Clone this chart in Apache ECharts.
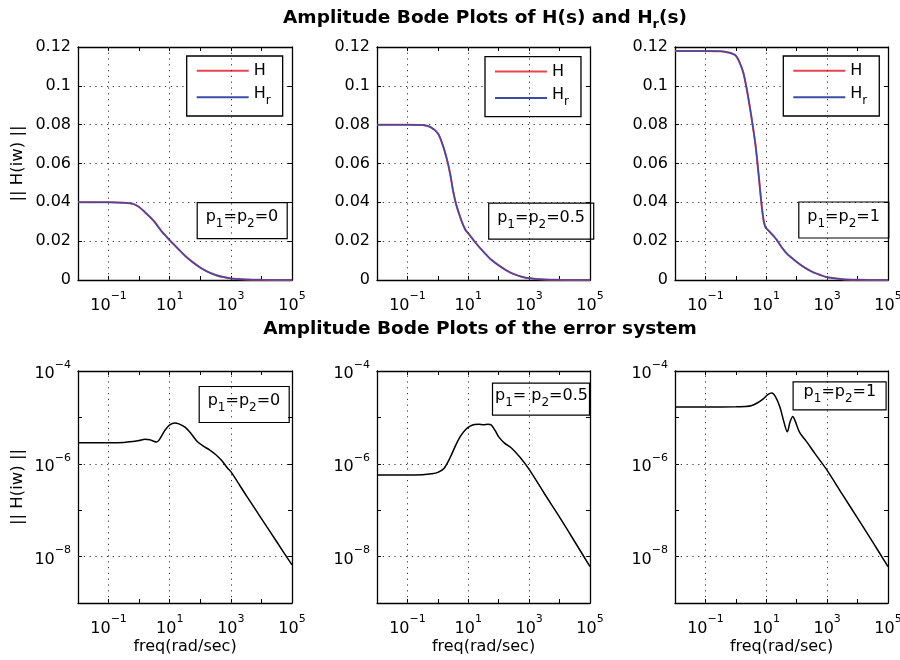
<!DOCTYPE html>
<html><head><meta charset="utf-8">
<script src="https://cdn.jsdelivr.net/npm/echarts@6/dist/echarts.min.js"></script>
<style>html,body{margin:0;padding:0;background:#fff}#c{width:900px;height:660px}</style>
</head><body><div id="c"></div>
<script>
// ---------- data (x = log10 of frequency in rad/sec) ----------
// top row: ||H(iw)|| (linear) ; H and Hr coincide at this resolution
const top0_logw = [-2, -1, -0.5, -0.2, 0, 0.25, 0.5, 0.75, 1.0, 1.25, 1.5, 1.75, 2.0, 2.25, 2.5, 2.75, 3.0, 3.5, 4, 5];
const top0_H    = [0.0400, 0.0400, 0.0398, 0.0392, 0.0376, 0.0340, 0.0300, 0.0248, 0.0205, 0.0165, 0.0125, 0.0092, 0.0064, 0.0042, 0.0026, 0.0015, 0.0008, 0.0003, 0.0001, 0.0];
const top0_Hr   = [0.0400, 0.0400, 0.0398, 0.0392, 0.0376, 0.0340, 0.0300, 0.0248, 0.0205, 0.0165, 0.0125, 0.0092, 0.0064, 0.0042, 0.0026, 0.0015, 0.0008, 0.0003, 0.0001, 0.0];

const top1_logw = [-2, -1, -0.5, -0.25, 0, 0.15, 0.3, 0.4, 0.5, 0.6, 0.7, 0.8, 0.9, 1.0, 1.25, 1.5, 1.75, 2.0, 2.25, 2.5, 2.75, 3.0, 3.5, 4, 5];
const top1_H    = [0.080, 0.080, 0.0798, 0.0788, 0.0755, 0.070, 0.062, 0.055, 0.046, 0.039, 0.034, 0.0295, 0.026, 0.024, 0.019, 0.0145, 0.0105, 0.0075, 0.005, 0.003, 0.0017, 0.0009, 0.0003, 0.0001, 0];
const top1_Hr   = [0.080, 0.080, 0.0798, 0.0788, 0.0755, 0.070, 0.062, 0.055, 0.046, 0.039, 0.034, 0.0295, 0.026, 0.024, 0.019, 0.0145, 0.0105, 0.0075, 0.005, 0.003, 0.0017, 0.0009, 0.0003, 0.0001, 0];

const top2_logw = [-2, -1, -0.5, -0.25, 0, 0.15, 0.25, 0.35, 0.45, 0.55, 0.65, 0.75, 0.85, 0.92, 0.98, 1.05, 1.13, 1.25, 1.35, 1.5, 1.67, 2.0, 2.25, 2.5, 2.77, 3.0, 3.5, 4, 5];
const top2_H    = [0.118, 0.118, 0.1178, 0.1172, 0.1155, 0.111, 0.1065, 0.099, 0.090, 0.080, 0.069, 0.054, 0.038, 0.030, 0.027, 0.0258, 0.0245, 0.0225, 0.0205, 0.017, 0.0137, 0.0093, 0.0065, 0.0043, 0.0026, 0.0014, 0.0004, 0.0001, 0];
const top2_Hr   = [0.118, 0.118, 0.1178, 0.1172, 0.1155, 0.111, 0.1065, 0.099, 0.090, 0.080, 0.069, 0.054, 0.038, 0.030, 0.027, 0.0258, 0.0245, 0.0225, 0.0205, 0.017, 0.0137, 0.0093, 0.0065, 0.0043, 0.0026, 0.0014, 0.0004, 0.0001, 0];

// bottom row: log10 of ||error(iw)||
const err0_logw = [-2, -1, -0.5, -0.2, 0.0, 0.19, 0.35, 0.5, 0.57, 0.65, 0.75, 0.85, 1.0, 1.17, 1.3, 1.5, 1.7, 1.9, 2.1, 2.3, 2.5, 2.7, 2.9, 3.0, 3.5, 4.0, 4.5, 5.0];
const err0_log  = [-5.548, -5.547, -5.54, -5.52, -5.50, -5.47, -5.48, -5.52, -5.53, -5.49, -5.38, -5.27, -5.16, -5.12, -5.14, -5.21, -5.35, -5.52, -5.62, -5.70, -5.80, -5.93, -6.10, -6.17, -6.68, -7.18, -7.68, -8.18];

const err1_logw = [-2, -1, -0.5, -0.2, 0.0, 0.2, 0.4, 0.6, 0.75, 0.9, 1.06, 1.2, 1.35, 1.5, 1.65, 1.75, 1.88, 2.0, 2.2, 2.4, 2.7, 3.0, 3.5, 4.0, 4.5, 5.0];
const err1_log  = [-6.243, -6.243, -6.235, -6.215, -6.185, -6.10, -5.87, -5.58, -5.40, -5.27, -5.19, -5.155, -5.145, -5.16, -5.148, -5.16, -5.28, -5.42, -5.56, -5.65, -5.86, -6.12, -6.64, -7.15, -7.68, -8.215];

const err2_logw = [-2, -1, 0, 0.3, 0.5, 0.7, 0.9, 1.05, 1.18, 1.3, 1.45, 1.58, 1.69, 1.78, 1.87, 1.95, 2.1, 2.3, 2.6, 3.0, 3.5, 4.0, 4.5, 5.0];
const err2_log  = [-4.774, -4.774, -4.772, -4.765, -4.75, -4.69, -4.60, -4.51, -4.475, -4.55, -4.78, -5.10, -5.31, -5.10, -4.98, -5.08, -5.33, -5.50, -5.78, -6.14, -6.66, -7.17, -7.69, -8.215];

// tick labels and annotations
const xLabelExps = [-1, 1, 3, 5];
const errYLabelExps = [-8, -6, -4];
const annotTop = ['p1=p2=0', 'p1=p2=0.5', 'p1=p2=1'];
const annotBottom = ['p1=p2=0', 'p1= p2=0.5', 'p1=p2=1'];

// ---------- chart ----------
const F = 'DejaVu Sans';
const RED = '#e8434f', BLUE = '#3a4ca8';
const chart = echarts.init(document.getElementById('c'), null, {renderer: 'canvas'});

const grids = [
  {left: 78, top: 47, width: 214, height: 233},
  {left: 377, top: 47, width: 213, height: 233},
  {left: 675, top: 47, width: 213, height: 233},
  {left: 78, top: 371, width: 214, height: 232},
  {left: 377, top: 371, width: 213, height: 232},
  {left: 675, top: 371, width: 213, height: 232}
].map(g => Object.assign({outerBoundsMode: 'none', containLabel: false}, g));

const powRich = {
  b: {fontFamily: F, fontSize: 16, lineHeight: 29, color: '#000'},
  s: {fontFamily: F, fontSize: 11, lineHeight: 11, verticalAlign: 'top', color: '#000'}
};
function pow10(e) { return '{b|10}{s|' + (e < 0 ? '\u2212' : '') + Math.abs(e) + '}'; }
function xFmt(v) {
  const e = Math.round(v);
  if (Math.abs(v - e) > 1e-6 || xLabelExps.indexOf(e) < 0) return '';
  return pow10(e);
}
function yErrFmt(v) {
  const e = Math.round(v);
  if (Math.abs(v - e) > 1e-6 || errYLabelExps.indexOf(e) < 0) return '';
  return pow10(e);
}
const dotted = {color: '#333', type: [1.2, 4.6], width: 1};
const axLine = {show: true, onZero: false, lineStyle: {color: '#000', width: 1.3}};
const axTick = {show: true, inside: true, length: 4, lineStyle: {color: '#000', width: 1}};

const xAxis = [], yAxis = [];
for (let i = 0; i < 6; i++) {
  const bottomRow = i >= 3;
  xAxis.push({
    type: 'value', gridIndex: i, position: 'bottom', min: -2, max: 5, interval: 1,
    axisLine: axLine, axisTick: axTick, splitLine: {show: false},
    axisLabel: {formatter: xFmt, rich: powRich, margin: 11, showMinLabel: true, showMaxLabel: true},
    name: bottomRow ? 'freq(rad/sec)' : '', nameLocation: 'middle', nameGap: 36,
    nameTextStyle: {fontFamily: F, fontSize: 16, color: '#000'}
  });
  xAxis.push({
    type: 'value', gridIndex: i, position: 'top', min: -2, max: 5, interval: 1,
    axisLine: axLine, axisTick: axTick, splitLine: {show: false}, axisLabel: {show: false}
  });
  const yCommon = bottomRow
    ? {min: -9, max: -4, interval: 1}
    : {min: 0, max: 0.12, interval: 0.02};
  yAxis.push(Object.assign({
    type: 'value', gridIndex: i, position: 'left',
    axisLine: axLine, axisTick: axTick,
    splitLine: bottomRow ? {show: false} : {show: true, lineStyle: dotted},
    axisLabel: bottomRow
      ? {formatter: yErrFmt, rich: powRich, margin: 7, padding: [6, 0, 0, 0], showMinLabel: true, showMaxLabel: true}
      : {formatter: v => String(+v.toFixed(2)), fontFamily: F, fontSize: 16, color: '#000', margin: 7, showMinLabel: true, showMaxLabel: true},
    name: (i % 3 === 0) ? '|| H(iw) ||' : '', nameLocation: 'middle', nameGap: 52,
    nameTextStyle: {fontFamily: F, fontSize: 16.5, color: '#000'}
  }, yCommon));
  yAxis.push(Object.assign({
    type: 'value', gridIndex: i, position: 'right',
    axisLine: axLine, axisTick: axTick, splitLine: {show: false}, axisLabel: {show: false}
  }, yCommon));
}

// dotted grid at the labelled decades (drawn through the axes' scales)
function gridMarks(bottomRow) {
  return {
    silent: true, symbol: ['none', 'none'], label: {show: false}, lineStyle: dotted, animation: false,
    emphasis: {disabled: true},
    data: xLabelExps.filter(e => e > -2 && e < 5).map(e => ({xAxis: e}))
      .concat(bottomRow ? errYLabelExps.filter(e => e > -9 && e < -4).map(e => ({yAxis: e})) : [])
  };
}

const topSets = [[top0_logw, top0_H, top0_Hr], [top1_logw, top1_H, top1_Hr], [top2_logw, top2_H, top2_Hr]];
const errSets = [[err0_logw, err0_log], [err1_logw, err1_log], [err2_logw, err2_log]];
const zip = (a, b) => a.map((v, k) => [v, b[k]]);
const series = [];
topSets.forEach((s, i) => {
  series.push({type: 'line', name: 'H', xAxisIndex: 2 * i, yAxisIndex: 2 * i, data: zip(s[0], s[1]),
    showSymbol: false, smooth: 0.3, lineStyle: {color: RED, width: 2}, itemStyle: {color: RED}, z: 2, silent: true,
    markLine: gridMarks(false)});
  series.push({type: 'line', name: 'Hr', xAxisIndex: 2 * i, yAxisIndex: 2 * i, data: zip(s[0], s[2]),
    showSymbol: false, smooth: 0.3, lineStyle: {color: BLUE, width: 1.5}, itemStyle: {color: BLUE}, z: 3, silent: true});
});
errSets.forEach((s, i) => {
  series.push({type: 'line', name: 'err' + i, xAxisIndex: 2 * (i + 3), yAxisIndex: 2 * (i + 3), data: zip(s[0], s[1]),
    showSymbol: false, smooth: 0.3, lineStyle: {color: '#000', width: 1.5}, itemStyle: {color: '#000'}, z: 3, silent: true,
    markLine: gridMarks(true)});
});

const legRich = {
  m: {fontFamily: F, fontSize: 16, fontWeight: 'normal', lineHeight: 26, color: '#000'},
  m2: {fontFamily: F, fontSize: 16, fontWeight: 'normal', lineHeight: 22, color: '#000'},
  s: {fontFamily: F, fontSize: 12, fontWeight: 'normal', lineHeight: 12, verticalAlign: 'bottom', color: '#000'}
};
const legendPos = [{left: 186.7, top: 56}, {left: 485, top: 56.7}, {left: 783.3, top: 56}];
const legend = legendPos.map(p => ({
  left: p.left, top: p.top, orient: 'vertical', selectedMode: false,
  backgroundColor: '#fff', borderColor: '#000', borderWidth: 1.3, padding: [6.7, 12, 8.7, 10],
  itemWidth: 52, itemHeight: 2, itemGap: 7.6, icon: 'rect',
  formatter: n => n === 'H' ? '{m2|H}' : '{m|H}{s|r}',
  textStyle: {rich: legRich},
  data: [{name: 'H'}, {name: 'Hr', textStyle: {padding: [0, 0, 6, 0]}}]
}));

const annRich = {
  m: {fontFamily: F, fontSize: 16, fontWeight: 'normal', lineHeight: 26, color: '#000'},
  s: {fontFamily: F, fontSize: 12, fontWeight: 'normal', lineHeight: 12, verticalAlign: 'bottom', color: '#000'}
};
function annText(t) {
  // "p1=p2=0" -> p with subscript digits
  const parts = [];
  let k = 0;
  while (k < t.length) {
    if (t[k] === 'p' && /\d/.test(t[k + 1] || '')) {
      parts.push('{m|p}{s|' + t[k + 1] + '}');
      k += 2;
    } else {
      let j = k;
      while (j < t.length && !(t[j] === 'p' && /\d/.test(t[j + 1] || ''))) j++;
      parts.push('{m|' + t.slice(k, j) + '}');
      k = j;
    }
  }
  return parts.join('');
}
// box top edge sits 5.2px below "top"; text block is 20px tall
const annBoxes = [
  {left: 196.7, top: 197.1, padding: [7, 9, 9, 9], text: annotTop[0]},
  {left: 488.5, top: 198.1, padding: [6.5, 8.7, 8.5, 8.7], text: annotTop[1]},
  {left: 798.3, top: 196.5, padding: [7, 9, 8.6, 9], text: annotTop[2]},
  {left: 199, top: 381.5, padding: [6.5, 8.7, 8.5, 8.7], text: annotBottom[0]},
  {left: 492.7, top: 378.1, padding: [4.5, 2.3, 6.5, 2.3], text: annotBottom[1]},
  {left: 793.3, top: 376.5, padding: [2.8, 10.3, 4.8, 10.3], text: annotBottom[2]}
];
const titleRich = {
  t: {fontFamily: F, fontSize: 18.5, fontWeight: 'bold', lineHeight: 27, color: '#000'},
  r: {fontFamily: F, fontSize: 13, fontWeight: 'bold', lineHeight: 13, verticalAlign: 'bottom', color: '#000'}
};
const title = [
  {left: 485, top: 4.5, textAlign: 'center', padding: 0,
   text: '{t|Amplitude Bode Plots of H(s) and H}{r|r}{t|(s)}', textStyle: {rich: titleRich}},
  {left: 480, top: 315.5, textAlign: 'center', padding: 0,
   text: '{t|Amplitude Bode Plots of the error system}', textStyle: {rich: titleRich}}
].concat(annBoxes.map(b => ({
  left: b.left, top: b.top, padding: b.padding, borderColor: '#000', borderWidth: 1.2,
  text: annText(b.text), textStyle: {fontWeight: 'normal', rich: annRich}
})));

chart.setOption({
  animation: false, backgroundColor: '#fff',
  grid: grids, xAxis, yAxis, series, legend, title
});
</script></body></html>
